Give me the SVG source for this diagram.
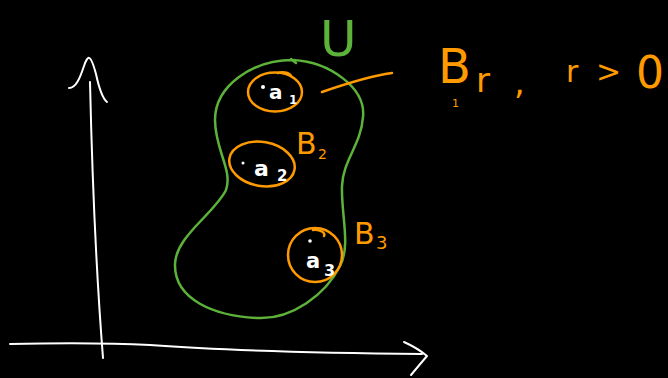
<svg xmlns="http://www.w3.org/2000/svg" width="668" height="378" viewBox="0 0 668 378">
<style>
.w{fill:none;stroke:#fff;stroke-width:2;stroke-linecap:round;stroke-linejoin:round}
.g{fill:none;stroke:#5db33a;stroke-width:2.5;stroke-linecap:round}
.o{fill:none;stroke:#ff9a00;stroke-width:2.5;stroke-linecap:round;stroke-linejoin:round}
.ot{fill:#ff9a00;font-family:"DejaVu Sans","Noto Sans",sans-serif}
.wt{fill:#fff;font-family:"DejaVu Sans","Noto Sans",sans-serif;font-weight:bold}
.gt{fill:#5db33a;font-family:"DejaVu Sans","Noto Sans",sans-serif}
</style>
<rect width="668" height="378" fill="#000"/>
<g id="axes">
<path class="w" d="M90,82 C92,170 96,270 103,358"/>
<path class="w" d="M69,88 C76,88 80,78 84,66 C86,60 88,57 89,58 C91,58 93,63 96,74 C99,88 102,98 107,102"/>
<path class="w" d="M10,344 C60,343 110,343 150,345 C230,351 330,353 422,354"/>
<path class="w" d="M404,342 C413,346 421,351 427,356 C421,363 416,369 411,375"/>
</g>
<g id="region-U">
<path class="g" d="M293,60 C330,62 366,88 363,117 C361,145 343,160 342,186 C341,215 351,245 340,266 C326,294 292,320 257,318 C215,316 174,300 175,264 C176,236 214,214 226,190 C233,170 215,150 215,120 C215,86 252,60 293,60"/>
<path class="g" d="M291,59 L296,63"/>
<text class="gt" x="320" y="56" font-size="50">U</text>
</g>
<g id="B1">
<ellipse class="o" cx="275" cy="92" rx="27" ry="19.5"/>
<path class="o" d="M278,73 C284,71 290,73 291,76"/>
<circle cx="263" cy="87" r="2" fill="#fff"/>
<text class="wt" x="269" y="99" font-size="20">a</text>
<text class="wt" x="289" y="104" font-size="12">1</text>
</g>
<g id="B2">
<ellipse class="o" cx="262" cy="164" rx="33" ry="22" transform="rotate(10 262 164)"/>
<circle cx="243" cy="163" r="1.5" fill="#fff"/>
<text class="wt" x="254" y="176" font-size="22">a</text>
<text class="wt" x="277" y="181" font-size="15">2</text>
<text class="ot" x="296" y="154" font-size="30">B</text>
<text class="ot" x="318" y="159" font-size="14">2</text>
</g>
<g id="B3">
<ellipse class="o" cx="315" cy="255" rx="27" ry="27"/>
<path class="o" d="M313,230 C320,229 326,233 324,236"/>
<circle cx="310" cy="241" r="1.8" fill="#fff"/>
<text class="wt" x="306" y="268" font-size="21">a</text>
<text class="wt" x="324" y="276" font-size="16">3</text>
<text class="ot" x="354" y="244" font-size="30">B</text>
<text class="ot" x="376" y="249" font-size="18">3</text>
</g>
<g id="label-Br">
<text class="ot" x="438" y="83" font-size="48">B</text>
<text class="ot" x="452" y="107" font-size="11">1</text>
<text class="ot" x="476" y="92" font-size="34">r</text>
<text class="ot" x="514" y="94" font-size="34">,</text>
<text class="ot" x="566" y="82" font-size="30">r</text>
<text class="ot" x="596" y="82" font-size="30">&gt;</text>
<text class="ot" x="636" y="88" font-size="44">0</text>
</g>
<g id="connectors">
<path class="o" d="M322,92 C345,84 370,76 392,73"/>
</g>
</svg>
